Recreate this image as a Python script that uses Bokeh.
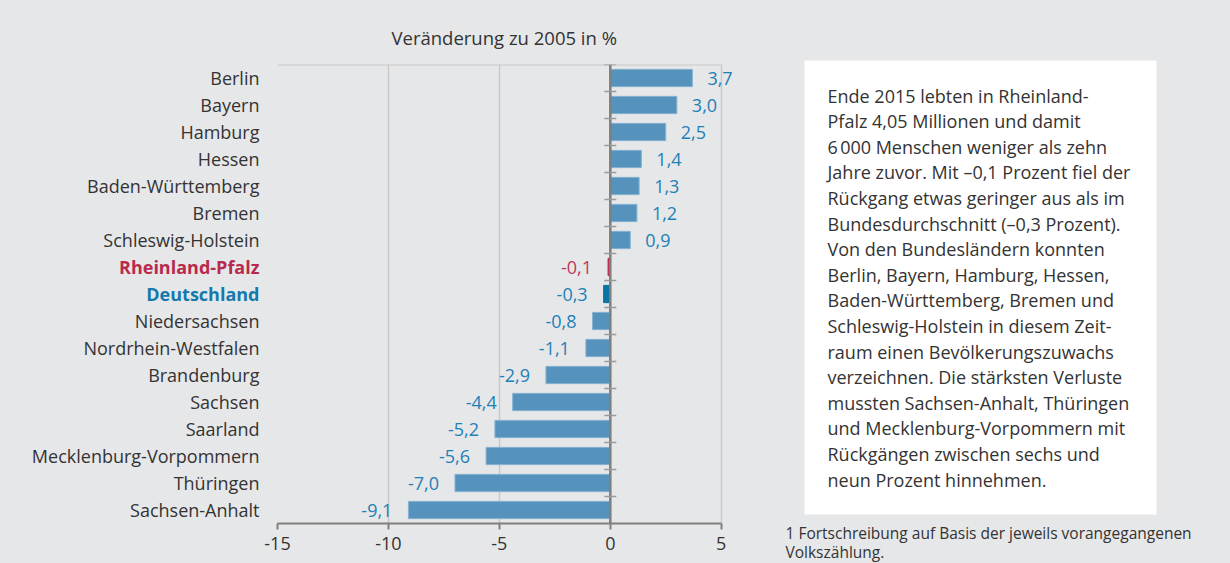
from bokeh.plotting import figure
from bokeh.layouts import row
from bokeh.models import Range1d, FixedTicker, ColumnDataSource, Title
from bokeh.core.properties import value
from bokeh.embed import file_html
from bokeh.resources import INLINE

# ---- data ----
categories = ["Berlin", "Bayern", "Hamburg", "Hessen", "Baden-Württemberg", "Bremen",
              "Schleswig-Holstein", "Rheinland-Pfalz", "Deutschland", "Niedersachsen",
              "Nordrhein-Westfalen", "Brandenburg", "Sachsen", "Saarland",
              "Mecklenburg-Vorpommern", "Thüringen", "Sachsen-Anhalt"]
changes = [3.7, 3.0, 2.5, 1.4, 1.3, 1.2, 0.9, -0.1, -0.3, -0.8, -1.1, -2.9, -4.4, -5.2,
           -5.6, -7.0, -9.1]
x_ticks = [-15, -10, -5, 0, 5]
title_text = "Veränderung zu 2005 in %"
box_lines = [
    "Ende 2015 lebten in Rheinland-",
    "Pfalz 4,05 Millionen und damit",
    "6\u202f000 Menschen weniger als zehn",
    "Jahre zuvor. Mit \u20130,1 Prozent fiel der",
    "Rückgang etwas geringer aus als im",
    "Bundesdurchschnitt (\u20130,3 Prozent).",
    "Von den Bundesländern konnten",
    "Berlin, Bayern, Hamburg, Hessen,",
    "Baden-Württemberg, Bremen und",
    "Schleswig-Holstein in diesem Zeit-",
    "raum einen Bevölkerungszuwachs",
    "verzeichnen. Die stärksten Verluste",
    "mussten Sachsen-Anhalt, Thüringen",
    "und Mecklenburg-Vorpommern mit",
    "Rückgängen zwischen sechs und",
    "neun Prozent hinnehmen.",
]
footnote_lines = ["1 Fortschreibung auf Basis der jeweils vorangegangenen",
                  "Volkszählung."]

# ---- styles ----
BG = "#e6e7e9"
FONT = "Open Sans"
TXT = "#333333"
RP_COL = "#b82a4d"
DE_COL = "#0c74a4"
BAR_COL = "#5593bd"
BAR_EDGE = "#86b3d4"
VAL_COL = "#1f80b6"
TOP, BOTTOM = 64, 40
H = 563

n = len(categories)
ys = [n - 1 - i for i in range(n)]
bar_colors, edge_colors, lab_colors, lab_styles, val_colors = [], [], [], [], []
for c in categories:
    if c == "Rheinland-Pfalz":
        bar_colors.append(RP_COL); edge_colors.append(RP_COL); lab_colors.append(RP_COL)
        lab_styles.append("bold"); val_colors.append("#c0385a")
    elif c == "Deutschland":
        bar_colors.append(DE_COL); edge_colors.append(DE_COL); lab_colors.append("#1479ad")
        lab_styles.append("bold"); val_colors.append(VAL_COL)
    else:
        bar_colors.append(BAR_COL); edge_colors.append(BAR_EDGE); lab_colors.append(TXT)
        lab_styles.append("normal"); val_colors.append(VAL_COL)

val_text = [f"{v:.1f}".replace(".", ",") for v in changes]
val_align = ["left" if v >= 0 else "right" for v in changes]
val_off = [15 if v >= 0 else -16 for v in changes]

src = ColumnDataSource(dict(y=ys, cat=categories, v=changes, bc=bar_colors, ec=edge_colors,
                            lc=lab_colors, ls=lab_styles, vc=val_colors, vt=val_text,
                            va=val_align, vo=val_off, zero=[0] * n, one=[1] * n))

y_range = Range1d(-0.5, n - 0.5)

# ---- category labels column ----
L = figure(width=260, height=H, output_backend="svg", toolbar_location=None,
           x_range=Range1d(0, 1), y_range=y_range, x_axis_location=None,
           y_axis_location=None, min_border_left=0, min_border_right=0,
           min_border_top=TOP, min_border_bottom=BOTTOM)
L.background_fill_color = BG
L.border_fill_color = BG
L.outline_line_color = None
L.grid.visible = False
L.text(x="one", y="y", text="cat", source=src, x_offset=-1, text_align="right",
       text_baseline="middle", text_font=value(FONT), text_font_size="18px",
       text_color="lc", text_font_style="ls")

# ---- bar chart ----
p = figure(width=500, height=H, output_backend="svg", toolbar_location=None,
           x_range=Range1d(x_ticks[0], 6.5), y_range=y_range,
           y_axis_location=None, min_border_left=17, min_border_right=6,
           min_border_top=TOP, min_border_bottom=BOTTOM)
p.background_fill_color = BG
p.border_fill_color = BG
p.outline_line_color = None

p.xgrid.ticker = FixedTicker(ticks=x_ticks)
p.xgrid.grid_line_color = "#c8c8c8"
p.xgrid.grid_line_width = 1.5
p.ygrid.visible = False

ax = p.xaxis[0]
ax.ticker = FixedTicker(ticks=x_ticks)
ax.bounds = (x_ticks[0], x_ticks[-1])
ax.major_label_overrides = {t: str(t) for t in x_ticks}
ax.axis_line_color = "#808080"
ax.axis_line_width = 2
ax.major_tick_line_color = "#808080"
ax.major_tick_line_width = 2
ax.major_tick_out = 6
ax.major_tick_in = 0
ax.minor_tick_line_color = None
ax.major_label_text_font = FONT
ax.major_label_text_font_size = "18px"
ax.major_label_text_color = TXT
ax.major_label_standoff = 7

p.add_layout(Title(text=title_text, align="left", offset=114, text_font=FONT,
                   text_font_size="18.5px", text_font_style="normal", text_color=TXT,
                   standoff=30), "above")

# top border of the plotting box
p.segment(x0=x_ticks[0], x1=x_ticks[-1], y0=n - 0.5, y1=n - 0.5, line_color="#c8c8c8",
          line_width=2)

p.hbar(y="y", left="zero", right="v", height=0.64, source=src, fill_color="bc",
       line_color="ec", line_width=1)

# zero line with separators between rows
p.segment(x0=0, x1=0, y0=-0.5, y1=n - 0.5, line_color="#7f7f7f", line_width=2.5)
bounds = [k + 0.5 for k in range(n)]
p.segment(x0=[-0.27] * n, x1=[0.27] * n, y0=bounds, y1=bounds, line_color="#9a9a9a",
          line_width=1.5)

p.text(x="v", y="y", text="vt", source=src, x_offset="vo", text_align="va",
       text_baseline="middle", text_font=value(FONT), text_font_size="18px",
       text_color="vc")

# ---- text panel ----
q = figure(width=470, height=H, output_backend="svg", toolbar_location=None,
           x_range=Range1d(0, 470), y_range=Range1d(H, 0), x_axis_location=None,
           y_axis_location=None, min_border=0)
if "frame_align" in q.properties():
    q.frame_align = False
q.background_fill_color = BG
q.border_fill_color = BG
q.outline_line_color = None
q.grid.visible = False
q.quad(left=44, right=396, top=60, bottom=514, fill_color="white", line_color=None)
q.text(x=[67] * len(box_lines), y=[95 + 25.6 * i for i in range(len(box_lines))],
       text=box_lines, text_font=value(FONT), text_font_size="18px", text_color=TXT,
       text_baseline="middle", text_align="left")
q.text(x=[25] * len(footnote_lines), y=[532 + 19 * i for i in range(len(footnote_lines))],
       text=footnote_lines, text_font=value(FONT), text_font_size="15.5px", text_color=TXT,
       text_baseline="middle", text_align="left")

layout = row(L, p, q, spacing=0, styles={"background-color": BG})
open("out.html", "w").write(file_html(layout, INLINE))
